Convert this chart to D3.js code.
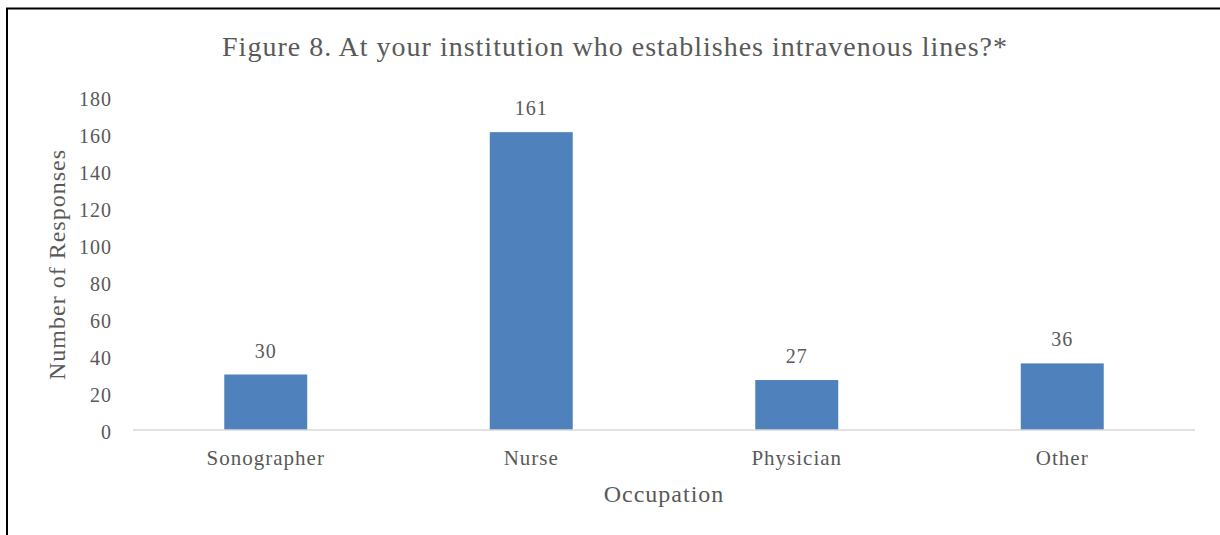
<!DOCTYPE html>
<html>
<head>
<meta charset="utf-8">
<script src="https://cdn.jsdelivr.net/npm/d3@7"></script>
<style>
  html, body { margin: 0; padding: 0; background: #fff; }
  svg { display: block; }
  text { font-family: "Liberation Serif", "DejaVu Serif", serif; fill: #595959; }
</style>
</head>
<body>
<svg id="chart" width="1220" height="535"></svg>
<script>
const categories = ["Sonographer", "Nurse", "Physician", "Other"];
const responses = [30, 161, 27, 36];
const yTicks = [0, 20, 40, 60, 80, 100, 120, 140, 160, 180];

const svg = d3.select("#chart");
const W = 1220, H = 535;
const plot = { left: 133, right: 1195, top: 97, bottom: 430 };
const serif = '"Liberation Serif", serif';

// frame around the figure (top and left edges visible)
svg.append("line").attr("x1", 6).attr("x2", W).attr("y1", 8.5).attr("y2", 8.5)
  .attr("stroke", "#000").attr("stroke-width", 2);
svg.append("line").attr("x1", 7).attr("x2", 7).attr("y1", 8).attr("y2", H)
  .attr("stroke", "#000").attr("stroke-width", 2);

const x = d3.scaleBand().domain(categories)
  .range([plot.left, plot.right])
  .paddingInner(0.6875).paddingOuter(0.34375);
const y = d3.scaleLinear().domain([0, 180]).range([plot.bottom, plot.top]);

// title
svg.append("text").attr("x", 615).attr("y", 56).attr("text-anchor", "middle")
  .style("font-size", "28px").style("letter-spacing", "1px")
  .text("Figure 8. At your institution who establishes intravenous lines?*");

// y axis tick labels
const yAxis = d3.axisLeft(y).tickValues(yTicks).tickSize(0).tickPadding(0);
const gy = svg.append("g").attr("transform", `translate(${plot.left - 21},0)`).call(yAxis);
gy.select(".domain").remove();
gy.selectAll("text").style("font-size", "20px").style("letter-spacing", "1px")
  .attr("fill", "#595959").attr("dy", "0.4em").style("font-family", serif);

// bars
svg.append("g").selectAll("rect").data(categories).join("rect")
  .attr("x", d => x(d)).attr("width", x.bandwidth())
  .attr("y", (d, i) => y(responses[i]))
  .attr("height", (d, i) => y(0) - y(responses[i]))
  .attr("fill", "#4f81bd");

// value labels
svg.append("g").selectAll("text").data(categories).join("text")
  .attr("x", d => x(d) + x.bandwidth() / 2)
  .attr("y", (d, i) => y(responses[i]) - 17)
  .attr("text-anchor", "middle").style("font-size", "20px").style("letter-spacing", "1px")
  .attr("fill", "#404040")
  .text((d, i) => responses[i]);

// x axis baseline and category labels
const xAxis = d3.axisBottom(x).tickSize(0).tickPadding(0);
const gx = svg.append("g").attr("transform", `translate(0,${plot.bottom})`).call(xAxis);
gx.select(".domain").attr("stroke", "#d9d9d9").attr("stroke-width", 1.5)
  .attr("d", `M${plot.left},0H${plot.right}`);
gx.selectAll("text").style("font-size", "21px").style("letter-spacing", "1px")
  .attr("fill", "#595959").style("font-family", serif)
  .attr("dy", null).attr("y", 35);

// axis titles
svg.append("text").attr("x", (plot.left + plot.right) / 2).attr("y", 502)
  .attr("text-anchor", "middle").style("font-size", "24px").style("letter-spacing", "1px")
  .text("Occupation");
svg.append("text")
  .attr("transform", `translate(65,${(plot.top + plot.bottom) / 2 + 1}) rotate(-90)`)
  .attr("text-anchor", "middle").style("font-size", "24px").style("letter-spacing", "1px")
  .text("Number of Responses");
</script>
</body>
</html>
